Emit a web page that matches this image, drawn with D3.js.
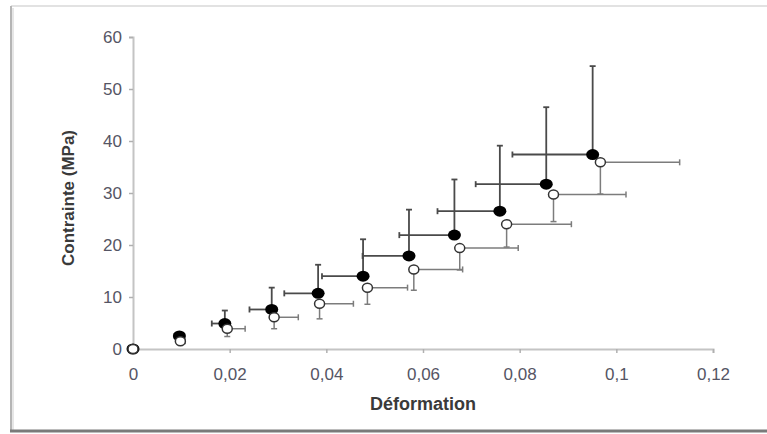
<!DOCTYPE html>
<html>
<head>
<meta charset="utf-8">
<script src="https://cdn.jsdelivr.net/npm/d3@7"></script>
<style>
  body { margin: 0; background: #fff; }
  svg { display: block; }
</style>
</head>
<body>
<div id="graph-chart"></div>
<script>
// Set Dimensions
const xSize = 767;
const ySize = 434;

// Tick values
const xTicks = [0, 0.02, 0.04, 0.06, 0.08, 0.1, 0.12];
const yTicks = [0, 10, 20, 30, 40, 50, 60];

// Filled series (black dots): strain, stress, error left (strain), error up (stress)
const filledStrain = [0, 0.0096, 0.019, 0.0287, 0.0383, 0.0476, 0.0571, 0.0665, 0.0759, 0.0855, 0.0951];
const filledStress = [0, 2.5, 4.9, 7.6, 10.7, 14.0, 17.9, 21.9, 26.5, 31.7, 37.4];
const filledErrStrain = [0, 0.001, 0.0027, 0.0046, 0.007, 0.0085, 0.0096, 0.0114, 0.0129, 0.0146, 0.0166];
const filledErrStress = [0, 0.4, 2.5, 4.2, 5.5, 7.1, 8.9, 10.7, 12.6, 14.8, 17.0];

// Open series (white dots): strain, stress, error right (strain), error down (stress)
const openStrain = [0, 0.0098, 0.0195, 0.0292, 0.0386, 0.0485, 0.0581, 0.0676, 0.0773, 0.087, 0.0967];
const openStress = [0, 1.5, 3.9, 6.1, 8.7, 11.8, 15.3, 19.4, 24.0, 29.7, 35.9];
const openErrStrain = [0, 0.001, 0.0037, 0.005, 0.007, 0.0083, 0.0101, 0.0121, 0.0134, 0.015, 0.0164];
const openErrStress = [0, 0.4, 1.5, 2.2, 2.9, 3.2, 4.0, 4.2, 4.4, 5.2, 6.1];

const svg = d3.select("#graph-chart")
  .append("svg")
  .attr("width", xSize)
  .attr("height", ySize);

// Frame round the picture
svg.append("rect")
  .attr("x", 0).attr("y", 0)
  .attr("width", xSize).attr("height", ySize)
  .attr("fill", "#fff");
svg.append("line")
  .attr("x1", 11).attr("x2", xSize).attr("y1", 6).attr("y2", 6)
  .attr("stroke", "#e2e2e2").attr("stroke-width", 2);
svg.append("line")
  .attr("x1", 11).attr("x2", 11).attr("y1", 6).attr("y2", 431)
  .attr("stroke", "#b5b5b5").attr("stroke-width", 2);
svg.append("line")
  .attr("x1", 13).attr("x2", 13).attr("y1", 8).attr("y2", 430)
  .attr("stroke", "#e6e6e6").attr("stroke-width", 2);
svg.append("line")
  .attr("x1", 10).attr("x2", xSize).attr("y1", 431).attr("y2", 431)
  .attr("stroke", "#7a7a7a").attr("stroke-width", 3);

// Scales
const xAxis = d3.scaleLinear().domain([0, 0.12]).range([133, 713]);
const yAxis = d3.scaleLinear().domain([0, 60]).range([349, 37]);

const fmt = d => String(d).replace(".", ",");

// X Axis
const gx = svg.append("g")
  .attr("transform", "translate(0," + yAxis(0) + ")")
  .call(d3.axisBottom(xAxis).tickValues(xTicks).tickFormat(fmt).tickSizeOuter(0).tickSize(4).tickPadding(15));
// Y Axis
const gy = svg.append("g")
  .attr("transform", "translate(" + xAxis(0) + ",0)")
  .call(d3.axisLeft(yAxis).tickValues(yTicks).tickFormat(fmt).tickSizeOuter(0).tickSize(4).tickPadding(7));

[gx, gy].forEach(g => {
  g.select(".domain").attr("stroke", "#c4c4c4").attr("stroke-width", 2);
  g.selectAll(".tick line").attr("stroke", "#b0b0b0").attr("stroke-width", 1.5);
  g.selectAll(".tick text")
    .attr("fill", "#555564")
    .style("font-family", "Liberation Sans, Arial, sans-serif")
    .style("font-size", "17px");
});

// Axis titles
svg.append("text")
  .attr("x", 423).attr("y", 410)
  .attr("text-anchor", "middle")
  .attr("fill", "#3a3a3a")
  .style("font-family", "Liberation Sans, Arial, sans-serif")
  .style("font-size", "18px").style("font-weight", "bold")
  .text("Déformation");
svg.append("text")
  .attr("transform", "translate(74,198) rotate(-90)")
  .attr("text-anchor", "middle")
  .attr("fill", "#3a3a3a")
  .style("font-family", "Liberation Sans, Arial, sans-serif")
  .style("font-size", "17px").style("font-weight", "bold")
  .text("Contrainte (MPa)");

// Build point objects from the arrays
const filled = filledStrain.map((d, i) => ({x: d, y: filledStress[i], ex: -filledErrStrain[i], ey: filledErrStress[i]}));
const open = openStrain.map((d, i) => ({x: d, y: openStress[i], ex: openErrStrain[i], ey: -openErrStress[i]}));

// Error bars with caps
function drawErrors(data, color, width) {
  const g = svg.append("g").attr("stroke", color).attr("stroke-width", width);
  data.filter(d => d.ex !== 0).forEach(d => {
    const x0 = xAxis(d.x), y0 = yAxis(d.y);
    const x1 = xAxis(d.x + d.ex), y1 = yAxis(d.y + d.ey);
    // horizontal bar
    g.append("line").attr("x1", x0).attr("x2", x1).attr("y1", y0).attr("y2", y0);
    g.append("line").attr("x1", x1).attr("x2", x1).attr("y1", y0 - 3).attr("y2", y0 + 3);
    // vertical bar
    g.append("line").attr("x1", x0).attr("x2", x0).attr("y1", y0).attr("y2", y1);
    g.append("line").attr("x1", x0 - 3).attr("x2", x0 + 3).attr("y1", y1).attr("y2", y1);
  });
}

drawErrors(filled, "#4a4a4a", 1.8);
drawErrors(open, "#7c7c7c", 1.5);

// Filled dots
svg.selectAll("ellipse.filled")
  .data(filled).enter()
  .append("ellipse")
  .attr("class", "filled")
  .attr("cx", d => xAxis(d.x))
  .attr("cy", d => yAxis(d.y))
  .attr("rx", 6.5).attr("ry", 5.5)
  .attr("fill", "#000");

// Open dots
svg.selectAll("ellipse.open")
  .data(open).enter()
  .append("ellipse")
  .attr("class", "open")
  .attr("cx", d => xAxis(d.x))
  .attr("cy", d => yAxis(d.y))
  .attr("rx", 5).attr("ry", 4.5)
  .attr("fill", "#fff")
  .attr("stroke", "#333")
  .attr("stroke-width", 1.5);
</script>
</body>
</html>
